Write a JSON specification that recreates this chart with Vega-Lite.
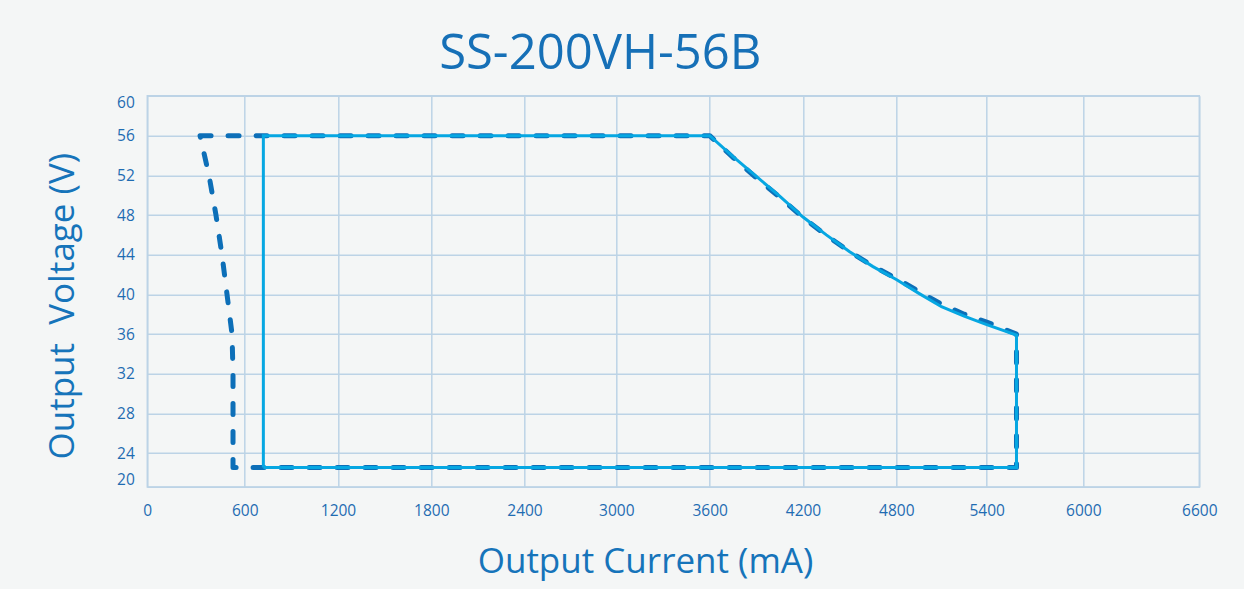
{
  "$schema": "https://vega.github.io/schema/vega-lite/v6.json",
  "autosize": "none",
  "width": 1052,
  "height": 391.3,
  "padding": {"left": 147.3, "top": 95.7, "right": 44.7, "bottom": 102},
  "background": "#f4f6f6",
  "title": {
    "text": "SS-200VH-56B",
    "font": "Open Sans",
    "fontSize": 49,
    "fontWeight": "normal",
    "color": "#1670b7",
    "anchor": "middle",
    "dx": -73,
    "dy": 49,
    "offset": 27,
    "baseline": "alphabetic"
  },
  "config": {
    "view": {"stroke": "#bcd3e6", "strokeWidth": 1.5},
    "axis": {
      "labelFont": "Open Sans",
      "labelFontSize": 15.5,
      "labelColor": "#1f6cb2",
      "titleFont": "Open Sans",
      "titleFontWeight": "normal",
      "titleColor": "#1674ba",
      "titleFontSize": 35,
      "grid": true,
      "gridColor": "#bcd3e6",
      "gridWidth": 1.5,
      "domain": false,
      "ticks": false,
      "tickSize": 0
    }
  },
  "data": {
    "values": [
      {"s": "dashed", "o": 1, "I": 325, "V": 56},
      {"s": "dashed", "o": 2, "I": 3600, "V": 56},
      {"s": "dashed", "o": 3, "I": 3750, "V": 53.8},
      {"s": "dashed", "o": 4, "I": 3900, "V": 51.75},
      {"s": "dashed", "o": 5, "I": 4050, "V": 49.8},
      {"s": "dashed", "o": 6, "I": 4200, "V": 47.75},
      {"s": "dashed", "o": 7, "I": 4350, "V": 45.95},
      {"s": "dashed", "o": 8, "I": 4500, "V": 44.3},
      {"s": "dashed", "o": 9, "I": 4650, "V": 42.85},
      {"s": "dashed", "o": 10, "I": 4800, "V": 41.6},
      {"s": "dashed", "o": 11, "I": 4950, "V": 40.3},
      {"s": "dashed", "o": 12, "I": 5100, "V": 39.0},
      {"s": "dashed", "o": 13, "I": 5250, "V": 38.0},
      {"s": "dashed", "o": 14, "I": 5400, "V": 37.2},
      {"s": "dashed", "o": 15, "I": 5585, "V": 36.0},
      {"s": "dashed", "o": 16, "I": 5585, "V": 22.3},
      {"s": "dashed", "o": 17, "I": 528, "V": 22.3},
      {"s": "dashed", "o": 18, "I": 528, "V": 32},
      {"s": "dashed", "o": 19, "I": 522, "V": 36},
      {"s": "dashed", "o": 20, "I": 491, "V": 40},
      {"s": "dashed", "o": 21, "I": 460, "V": 44},
      {"s": "dashed", "o": 22, "I": 423, "V": 48},
      {"s": "dashed", "o": 23, "I": 380, "V": 52},
      {"s": "dashed", "o": 24, "I": 325, "V": 56},
      {"s": "solid", "o": 1, "I": 720, "V": 22.3},
      {"s": "solid", "o": 2, "I": 720, "V": 56},
      {"s": "solid", "o": 3, "I": 3600, "V": 56},
      {"s": "solid", "o": 4, "I": 3750, "V": 53.9},
      {"s": "solid", "o": 5, "I": 3900, "V": 51.9},
      {"s": "solid", "o": 6, "I": 4050, "V": 49.9},
      {"s": "solid", "o": 7, "I": 4200, "V": 47.8},
      {"s": "solid", "o": 8, "I": 4350, "V": 46.0},
      {"s": "solid", "o": 9, "I": 4500, "V": 44.3},
      {"s": "solid", "o": 10, "I": 4650, "V": 42.8},
      {"s": "solid", "o": 11, "I": 4800, "V": 41.5},
      {"s": "solid", "o": 12, "I": 4950, "V": 40.1},
      {"s": "solid", "o": 13, "I": 5100, "V": 38.75},
      {"s": "solid", "o": 14, "I": 5250, "V": 37.8},
      {"s": "solid", "o": 15, "I": 5400, "V": 36.95},
      {"s": "solid", "o": 16, "I": 5585, "V": 35.9},
      {"s": "solid", "o": 17, "I": 5585, "V": 22.3},
      {"s": "solid", "o": 18, "I": 720, "V": 22.3}
    ]
  },
  "encoding": {
    "x": {
      "field": "I",
      "type": "quantitative",
      "scale": {
        "domain": [0, 600, 1200, 1800, 2400, 3000, 3600, 4200, 4800, 5400, 6000, 6600],
        "range": [0, 97.4, 190.7, 284, 377.2, 469, 562.4, 655.7, 749, 839.4, 936, 1052],
        "zero": false,
        "nice": false
      },
      "axis": {
        "values": [0, 600, 1200, 1800, 2400, 3000, 3600, 4200, 4800, 5400, 6000, 6600],
        "format": "d",
        "labelFlush": false,
        "labelBaseline": "alphabetic",
        "labelPadding": 28,
        "title": "Output Current (mA)",
        "titleX": 497.7,
        "titleY": 85,
        "titleAlign": "center",
        "titleBaseline": "alphabetic"
      }
    },
    "y": {
      "field": "V",
      "type": "quantitative",
      "scale": {
        "domain": [20, 24, 56, 60],
        "range": [391.3, 357.3, 40, 0],
        "zero": false,
        "nice": false
      },
      "axis": {
        "values": [20, 24, 28, 32, 36, 40, 44, 48, 52, 56, 60],
        "labelFlush": true,
        "labelPadding": 13,
        "title": "Output \u00a0Voltage (V)",
        "titleX": -74,
        "titleY": 210,
        "titleAngle": -90,
        "titleAlign": "center",
        "titleBaseline": "alphabetic"
      }
    },
    "order": {"field": "o", "type": "quantitative"}
  },
  "layer": [
    {
      "transform": [{"filter": "datum.s === 'dashed'"}],
      "mark": {
        "type": "line",
        "color": "#0d6fb8",
        "strokeWidth": 5,
        "strokeDash": [11, 17],
        "strokeCap": "round",
        "strokeJoin": "round"
      }
    },
    {
      "transform": [{"filter": "datum.s === 'solid'"}],
      "mark": {
        "type": "line",
        "color": "#06a7e2",
        "strokeWidth": 3,
        "strokeJoin": "miter"
      }
    }
  ]
}
